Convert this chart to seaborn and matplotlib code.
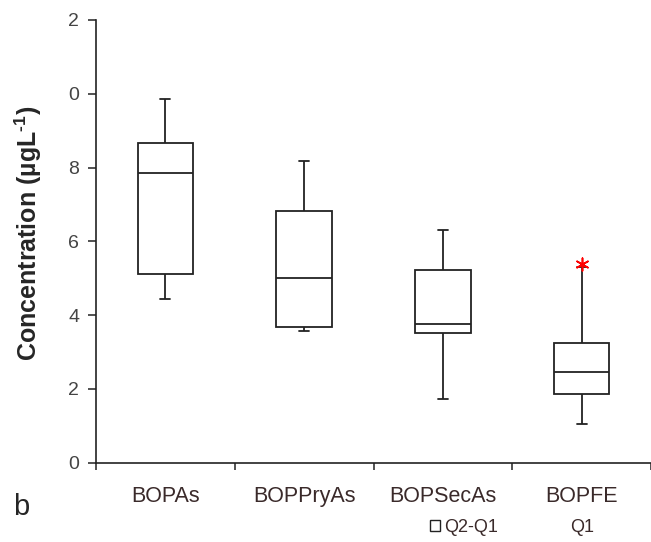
import matplotlib
matplotlib.use("Agg")
import matplotlib.pyplot as plt
from matplotlib.patches import Patch
import numpy as np
import pandas as pd
import seaborn as sns

# five-number summaries (whisker low, Q1, median, Q3, whisker high)
sites = ["BOPAs", "BOPPryAs", "BOPSecAs", "BOPFE"]
whisk_lo = [4.43, 3.56, 1.74, 1.05]
q1 = [5.11, 3.68, 3.52, 1.87]
median = [7.86, 5.02, 3.76, 2.46]
q3 = [8.66, 6.83, 5.22, 3.25]
whisk_hi = [9.87, 8.18, 6.32, 5.31]
outlier_site = ["BOPFE"]
outlier_val = [5.39]

ytick_vals = [0, 2, 4, 6, 8, 10, 12]
ytick_text = ["0", "2", "4", "6", "8", "0", "2"]  # as printed on the original

rows = []
for i, s in enumerate(sites):
    for v in (whisk_lo[i], q1[i], median[i], q3[i], whisk_hi[i]):
        rows.append((s, v))
df = pd.DataFrame(rows, columns=["site", "conc"])

sns.set_style("white")
plt.rcParams["font.family"] = ["Liberation Sans", "DejaVu Sans"]
plt.rcParams["mathtext.fontset"] = "custom"
plt.rcParams["mathtext.rm"] = "Liberation Sans:bold"
plt.rcParams["mathtext.bf"] = "Liberation Sans:bold"

W, H = 651, 542
fig = plt.figure(figsize=(W / 100, H / 100), dpi=100)
x0, y0, y1 = 96, 462.8, 19.9
ax = fig.add_axes([x0 / W, (H - y0) / H, (W - x0) / W, (y0 - y1) / H])

sns.boxplot(data=df, x="site", y="conc", order=sites, whis=(0, 100),
            width=0.4, color="white", linecolor="#222222", linewidth=1.3,
            showfliers=False, ax=ax)

# shrink the caps to short bars like the original
for ln in ax.lines:
    xd, yd = np.asarray(ln.get_xdata(), float), np.asarray(ln.get_ydata(), float)
    if len(xd) == 2 and yd[0] == yd[1]:
        span = abs(xd[1] - xd[0])
        if span < 0.35:
            c = xd.mean()
            ln.set_xdata([c - 0.036, c + 0.036])

sns.stripplot(x=outlier_site, y=outlier_val, order=sites, jitter=False,
              marker=(6, 2, 0), color="red", size=9, linewidth=1.2,
              edgecolor="red", ax=ax)

ax.set_xlim(-0.5, -0.5 + (W - x0) / 140)
ax.set_ylim(0, 12)
ax.set_yticks(ytick_vals, ytick_text)
ax.tick_params(axis="y", direction="out", length=6, width=1.1, color="#222222",
               labelsize=14, labelcolor="#444444", pad=6, left=True)
ax.set_xticks(range(len(sites)), sites)
ax.set_xticks(np.arange(-0.5, 4, 1), minor=True)
ax.tick_params(axis="x", which="major", length=0, labelsize=15.5,
               labelcolor="#3a2a2a", pad=17)
ax.tick_params(axis="x", which="minor", direction="out", length=5, width=1.1,
               color="#222222", bottom=True)
ax.set_xlabel("")
ax.set_ylabel("")
for side in ("top", "right"):
    ax.spines[side].set_visible(False)
for side in ("left", "bottom"):
    ax.spines[side].set_color("#222222")
    ax.spines[side].set_linewidth(1.2)

fig.text(28 / W, (H - 233) / H, r"Concentration (µgL$^{\text{-1}}$)",
         rotation=90, ha="center", va="center", fontsize=18, fontweight="bold")
fig.text(13 / W, (H - 515) / H, "b", fontsize=21, va="baseline", ha="left")

handles = [Patch(facecolor="white", edgecolor="#222222", linewidth=1.0),
           Patch(facecolor="none", edgecolor="none")]
fig.legend(handles, ["Q2-Q1", "Q1"], ncol=2, frameon=False, fontsize=13,
           loc="center left", bbox_to_anchor=(430 / W, (H - 527) / H),
           borderpad=0, borderaxespad=0, handlelength=0.55, handleheight=0.55,
           handletextpad=0.25, columnspacing=3.2, labelcolor="#3a2a2a")

fig.savefig("out.png", dpi=100)
